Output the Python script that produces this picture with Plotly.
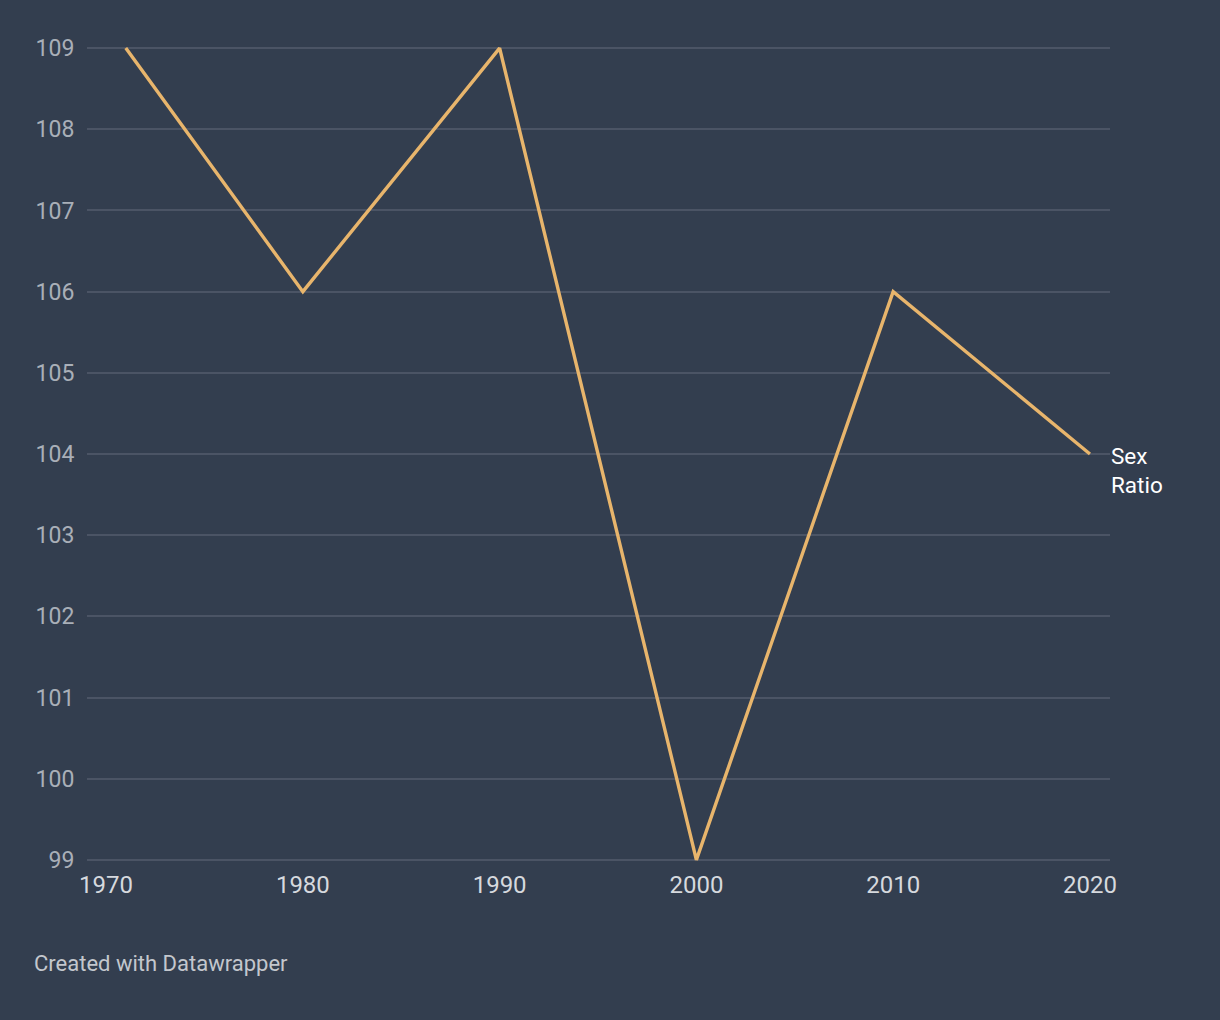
import plotly.graph_objects as go

# ── Data ──────────────────────────────────────────────────────────────────────
YEARS = [1971, 1980, 1990, 2000, 2010, 2020]
SEX_RATIO = [109, 106, 109, 99, 106, 104]
X_TICKS = [1970, 1980, 1990, 2000, 2010, 2020]
Y_TICKS = list(range(99, 110))

# ── Colours ───────────────────────────────────────────────────────────────────
BG = "#333e4f"
LINE = "#e8b56c"
GRID = "#4b5465"
Y_TEXT = "#a9afb8"
X_TEXT = "#d6d9de"
FONT = "Roboto"

fig = go.Figure()
fig.add_trace(go.Scatter(
    x=YEARS, y=SEX_RATIO,
    mode="lines", name="Sex Ratio",
    line=dict(color=LINE, width=3.4),
    hoverinfo="x+y",
))

fig.add_annotation(
    x=YEARS[-1], y=SEX_RATIO[-1],
    text="Sex<br>Ratio", showarrow=False,
    xanchor="left", yanchor="top", align="left",
    xshift=19, yshift=13,
    font=dict(family=FONT, size=22.5, color="#ffffff"),
)

fig.add_annotation(
    x=0, y=0, xref="paper", yref="paper",
    text="Created with Datawrapper", showarrow=False,
    xanchor="left", yanchor="middle",
    xshift=-55, yshift=-95,
    font=dict(family=FONT, size=22, color="#c3c7cd"),
)

fig.update_layout(
    width=1220, height=1020,
    paper_bgcolor=BG, plot_bgcolor=BG,
    showlegend=False,
    margin=dict(l=87, r=110, t=39.6, b=152.2),
    font=dict(family=FONT, size=24),
)
fig.update_xaxes(
    range=[1969.03, 2021.02],
    tickvals=X_TICKS,
    showgrid=False, zeroline=False, showline=False,
    tickfont=dict(family=FONT, size=24, color=X_TEXT),
    ticks="",
)
fig.update_yaxes(
    range=[98.9, 109.1],
    tickvals=Y_TICKS,
    showgrid=True, gridcolor=GRID, gridwidth=1.5,
    zeroline=False, showline=False,
    tickfont=dict(family=FONT, size=23, color=Y_TEXT),
    ticks="outside", ticklen=7, tickcolor="rgba(0,0,0,0)",
)

fig.write_html(
    "out.html",
    config={"displayModeBar": False},
    post_script="document.body.style.margin='0';document.body.style.background='" + BG + "';",
)
